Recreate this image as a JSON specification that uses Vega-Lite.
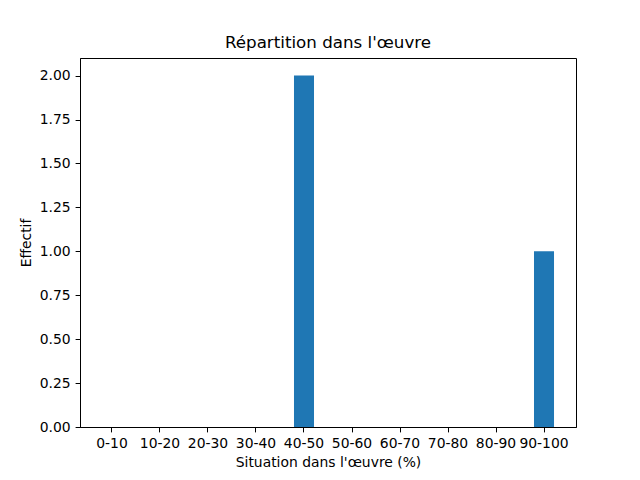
{
  "$schema": "https://vega.github.io/schema/vega-lite/v6.json",
  "width": 496,
  "height": 369,
  "autosize": {"type": "none"},
  "padding": {"left": 80, "top": 58, "right": 64, "bottom": 53},
  "background": "white",
  "title": {"text": "Répartition dans l'œuvre", "font": "DejaVu Sans", "fontSize": 16.7, "fontWeight": "normal", "color": "black", "offset": 6},
  "config": {
    "view": {"stroke": "black", "strokeWidth": 1},
    "axis": {
      "labelFont": "DejaVu Sans", "labelFontSize": 13.9, "labelColor": "black",
      "titleFont": "DejaVu Sans", "titleFontSize": 13.9, "titleFontWeight": "normal", "titleColor": "black",
      "domainColor": "black", "tickColor": "black", "tickSize": 4.9, "labelPadding": 4.9, "grid": false
    }
  },
  "data": {"values": [
    {"tranche": "0-10", "effectif": 0},
    {"tranche": "10-20", "effectif": 0},
    {"tranche": "20-30", "effectif": 0},
    {"tranche": "30-40", "effectif": 0},
    {"tranche": "40-50", "effectif": 2},
    {"tranche": "50-60", "effectif": 0},
    {"tranche": "60-70", "effectif": 0},
    {"tranche": "70-80", "effectif": 0},
    {"tranche": "80-90", "effectif": 0},
    {"tranche": "90-100", "effectif": 1}
  ]},
  "mark": {"type": "bar", "color": "#1f77b4"},
  "encoding": {
    "x": {"field": "tranche", "type": "nominal", "sort": null,
      "scale": {"paddingInner": 0.583, "paddingOuter": 0.458},
      "axis": {"title": "Situation dans l'œuvre (%)", "labelAngle": 0, "titlePadding": 5}},
    "y": {"field": "effectif", "type": "quantitative",
      "scale": {"domain": [0, 2.1], "nice": false, "zero": true},
      "axis": {"title": "Effectif", "values": [0, 0.25, 0.5, 0.75, 1, 1.25, 1.5, 1.75, 2], "format": ".2f", "titlePadding": 6}}
  }
}
